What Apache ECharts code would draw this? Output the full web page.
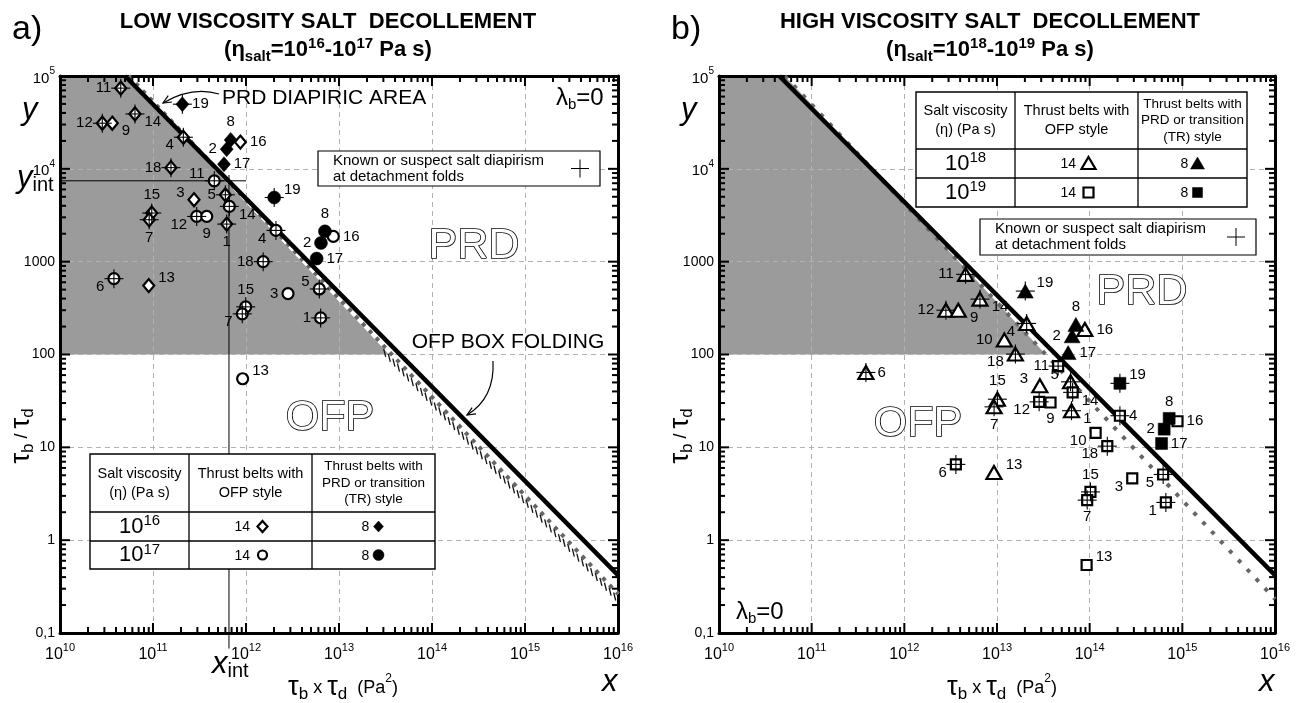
<!DOCTYPE html>
<html><head><meta charset="utf-8">
<script src="https://cdn.jsdelivr.net/npm/echarts@6/dist/echarts.min.js"></script>
<style>html,body{margin:0;padding:0;background:#fff}#c{width:1296px;height:703px}</style>
</head><body><div id="c"></div>
<script>
// ================= DATA =================
const xTickExps = [10, 11, 12, 13, 14, 15, 16];
const yTickLabels = {'-1': '0,1', '0': '1', '1': '10', '2': '100', '3': '1000', '4': '{b|10}{s|4}', '5': '{b|10}{s|5}'};

// rows: [tau_b x tau_d (Pa^2), tau_b / tau_d, belt number, salt diapirism (1/0)]
// a) eta = 1e16 Pa s
const lowDiamondOpen = [
  [4.5e10, 7.4e4, '11', 1], [6.4e10, 3.9e4, '14', 1], [2.85e10, 3.1e4, '12', 1], [3.65e10, 3.1e4, '9', 0],
  [2.12e11, 2.19e4, '4', 1], [8.7e11, 1.94e4, '16', 0], [1.56e11, 1.03e4, '18', 1], [2.76e11, 4.65e3, '3', 0],
  [6.0e11, 5.25e3, '5', 1], [9.7e10, 3.34e3, '15', 1], [9.1e10, 2.83e3, '7', 1], [6.2e11, 2.54e3, '1', 1],
  [9.0e10, 552, '13', 0]
];
const lowDiamondFilled = [
  [2.07e11, 4.97e4, '19', 1], [6.84e11, 2.05e4, '8', 0], [6.2e11, 1.63e4, '2', 0], [5.8e11, 1.12e4, '17', 0]
];
// a) eta = 1e17 Pa s
const lowCircleOpen = [
  [4.56e11, 7.43e3, '11', 1], [6.62e11, 3.94e3, '14', 1], [2.95e11, 3.07e3, '12', 1], [3.78e11, 3.07e3, '9', 0],
  [2.1e12, 2.17e3, '4', 1], [8.69e12, 1.87e3, '16', 0], [1.53e12, 1.0e3, '18', 1], [3.8e10, 656, '6', 1],
  [6.14e12, 508, '5', 1], [2.83e12, 453, '3', 0], [9.93e11, 326, '15', 1], [9.12e11, 274, '7', 1],
  [6.35e12, 248, '1', 1], [9.2e11, 54.8, '13', 0]
];
const lowCircleFilled = [
  [2.01e12, 4.91e3, '19', 1], [7.06e12, 2.12e3, '8', 0], [6.4e12, 1.59e3, '2', 0], [5.75e12, 1.08e3, '17', 0]
];
// b) eta = 1e18 Pa s
const highTriOpen = [
  [4.58e12, 730, '11', 1], [6.55e12, 395, '14', 1], [2.81e12, 300, '12', 1], [3.82e12, 300, '9', 0],
  [1.2e13, 143, '10', 0], [2.09e13, 216, '4', 1], [8.87e13, 186, '16', 0], [1.58e13, 101, '18', 1],
  [2.9e13, 46, '3', 0], [6.22e13, 50.8, '5', 1], [1.01e13, 33, '15', 1], [9.3e12, 27.3, '7', 1],
  [6.37e13, 24.8, '1', 1], [3.85e11, 64.1, '6', 1], [9.27e12, 5.36, '13', 0]
];
const highTriFilled = [
  [2.02e13, 482, '19', 1], [7.1e13, 211, '8', 0], [6.47e13, 159, '2', 0], [5.86e13, 105, '17', 0]
];
// b) eta = 1e19 Pa s
const highSqOpen = [
  [4.57e13, 75, '11', 1], [6.55e13, 39.1, '14', 1], [2.85e13, 30.9, '12', 1], [3.78e13, 30.4, '9', 0],
  [1.16e14, 14.3, '10', 0], [2.12e14, 21.9, '4', 1], [8.87e14, 19.1, '16', 0], [1.55e14, 10.3, '18', 1],
  [2.88e14, 4.62, '3', 0], [6.21e14, 5.1, '5', 1], [1.02e14, 3.31, '15', 1], [9.4e13, 2.7, '7', 1],
  [6.64e14, 2.55, '1', 1], [3.6e12, 6.55, '6', 1], [9.27e13, 0.54, '13', 0]
];
const highSqFilled = [
  [2.12e14, 48.9, '19', 1], [7.21e14, 20.5, '8', 0], [6.37e14, 15.7, '2', 0], [5.97e14, 11.0, '17', 0]
];

// boundary lines [x, y]
const lowThreshold = [[5.0e10, 1e5], [1e16, 0.42]];
const lowBoxFolding = [[5.5e10, 1e5], [1e16, 0.263]];
const highThreshold = [[4.47e10, 1e5], [1e16, 0.42]];
const highBoxFolding = [[5.13e10, 1e5], [1e16, 0.232]];
const lowShade = [[1e10, 1e5], [5.5e10, 1e5], [3.7e13, 100], [1e10, 100]];
const highShade = [[1e10, 1e5], [5.13e10, 1e5], [3.37e13, 100], [1e10, 100]];
const lowHatchStart = 3.1e13;
const xInt = 6.56e11, yInt = 7430;
const xIntLine = [[xInt, 8600], [xInt, 0.068]];
const yIntLine = [[6.9e9, yInt], [1e12, yInt]];

// ================= STYLE / LABEL PLACEMENT =================
const lowDiamondOpenLbl = ['l','br','l','br','bl','r','l','tl','l','t','b','b','tr'];
const lowDiamondFilledLbl = ['r','t','l','r'];
const lowCircleOpenLbl = ['tl','br','bl','b','bl','r','l','bl','tl','l','t','bl','l','tr'];
const lowCircleFilledLbl = ['tr','t','l','r'];
const highTriOpenLbl = ['l','br','l','br','l','bl','r','bl','tl','tl','t','b','br','r','tr'];
const highTriFilledLbl = ['tr','t','l','r'];
const highSqOpenLbl = ['l','br','bl','b','bl','r','r','bl','bl','bl','t','b','bl','bl','tr'];
const highSqFilledLbl = ['tr','t','l','r'];

const FONT = '"Liberation Sans", Arial, Helvetica, sans-serif';
const chart = echarts.init(document.getElementById('c'));

function supRich(base, sup) {
  return {
    b: {fontFamily: FONT, fontSize: base, color: '#000', lineHeight: base + 5, verticalAlign: 'bottom'},
    s: {fontFamily: FONT, fontSize: sup, color: '#000', lineHeight: sup, verticalAlign: 'top'}
  };
}
function mkX(gi, pos) {
  const main = pos === 'bottom';
  return {
    type: 'log', logBase: 10, min: 1e10, max: 1e16, splitNumber: 6, gridIndex: gi, position: pos, z: 1,
    axisLine: {show: true, onZero: false, lineStyle: {color: '#000', width: 3}},
    axisTick: {show: false}, minorTick: {show: false},
    splitLine: {show: main, lineStyle: {color: '#b2b2b2', width: 1, type: [5, 4]}},
    axisLabel: {show: main, margin: 9, formatter: v => '{b|10}{s|' + Math.round(Math.log10(v)) + '}', rich: supRich(16, 11)}
  };
}
function mkY(gi, pos) {
  const main = pos === 'left';
  return {
    type: 'log', logBase: 10, min: 0.1, max: 1e5, splitNumber: 6, gridIndex: gi, position: pos, z: 1,
    axisLine: {show: true, onZero: false, lineStyle: {color: '#000', width: 3}},
    axisTick: {show: false}, minorTick: {show: false},
    splitLine: {show: main, lineStyle: {color: '#b2b2b2', width: 1, type: [5, 4]}},
    axisLabel: {show: main, margin: 5, fontFamily: FONT, fontSize: 14, color: '#000',
      formatter: v => yTickLabels[String(Math.round(Math.log10(v)))], rich: supRich(15, 10)}
  };
}
const xAxes = [mkX(0, 'bottom'), mkX(0, 'top'), mkX(1, 'bottom'), mkX(1, 'top')];
const yAxes = [mkY(0, 'left'), mkY(0, 'right'), mkY(1, 'left'), mkY(1, 'right')];

// minor / major tick values (axis decoration)
const xTickVals = [], yTickVals = [];
for (let e = 10; e < 16; e++) for (let m = 1; m <= 9; m++) xTickVals.push(m * Math.pow(10, e));
xTickVals.push(1e16);
for (let e = -1; e < 5; e++) for (let m = 1; m <= 9; m++) yTickVals.push(+(m * Math.pow(10, e)).toPrecision(3));
yTickVals.push(1e5);
const isMajor = v => Math.abs(Math.log10(v) - Math.round(Math.log10(v))) < 1e-9;

const series = [];
function ax(gi) { return {xAxisIndex: gi * 2, yAxisIndex: gi * 2}; }

// shaded area
function polyRender(pts) {
  return function (params, api) {
    if (params.dataIndex !== 0) return null;
    return {type: 'polygon', shape: {points: pts.map(p => api.coord(p))}, style: {fill: '#9b9b9b'}};
  };
}
series.push(Object.assign({type: 'custom', z: 0, silent: true, renderItem: polyRender(lowShade), data: lowShade}, ax(0)));
series.push(Object.assign({type: 'custom', z: 0, silent: true, renderItem: polyRender(highShade), data: highShade}, ax(1)));

// ticks
function xTickRender(params, api) {
  const v = api.value(0);
  if (v <= 1e10 * 1.0001 || v >= 1e16 * 0.9999) return null;
  const b = api.coord([v, 0.1]), t = api.coord([v, 1e5]);
  const L = isMajor(v) ? 10 : 6;
  const st = {stroke: '#000', lineWidth: 2};
  return {type: 'group', children: [
    {type: 'line', shape: {x1: b[0], y1: b[1], x2: b[0], y2: b[1] - L}, style: st},
    {type: 'line', shape: {x1: t[0], y1: t[1], x2: t[0], y2: t[1] + L}, style: st}]};
}
function yTickRender(params, api) {
  const v = api.value(1);
  if (v <= 0.1 * 1.0001 || v >= 1e5 * 0.9999) return null;
  const l = api.coord([1e10, v]), r = api.coord([1e16, v]);
  const L = isMajor(v) ? 10 : 6;
  const st = {stroke: '#000', lineWidth: 2};
  return {type: 'group', children: [
    {type: 'line', shape: {x1: l[0], y1: l[1], x2: l[0] + L, y2: l[1]}, style: st},
    {type: 'line', shape: {x1: r[0], y1: r[1], x2: r[0] - L, y2: r[1]}, style: st}]};
}
[0, 1].forEach(gi => {
  series.push(Object.assign({type: 'custom', z: 4, silent: true, renderItem: xTickRender, data: xTickVals.map(v => [v, 1])}, ax(gi)));
  series.push(Object.assign({type: 'custom', z: 4, silent: true, renderItem: yTickRender, data: yTickVals.map(v => [1e12, v])}, ax(gi)));
});

// lines
function lineS(gi, data, lineStyle, z, extra) {
  return Object.assign({type: 'line', data, symbol: 'none', silent: true, z, lineStyle, clip: false}, ax(gi), extra || {});
}
series.push(lineS(0, lowBoxFolding, {color: '#fff', width: 4}, 2));
series.push(lineS(0, lowBoxFolding, {color: '#666', width: 4, type: [4, 6]}, 2.1));
series.push(lineS(0, lowThreshold, {color: '#000', width: 4.5}, 3));
series.push(lineS(1, highBoxFolding, {color: '#666', width: 4, type: [4, 9]}, 2.1));
series.push(lineS(1, highThreshold, {color: '#000', width: 4.5}, 3));
series.push(lineS(0, xIntLine, {color: '#000', width: 1}, 3));
series.push(lineS(0, yIntLine, {color: '#000', width: 1}, 3));

// hatch below OFP box folding line (a)
series.push(Object.assign({type: 'custom', z: 2.2, silent: true, data: lowBoxFolding,
  renderItem: function (params, api) {
    if (params.dataIndex !== 0) return null;
    const p0 = api.coord(lowBoxFolding[0]), p1 = api.coord(lowBoxFolding[1]);
    const s = api.coord([lowHatchStart, 1])[0];
    const k = (p1[1] - p0[1]) / (p1[0] - p0[0]);
    const ch = [];
    for (let x = s; x <= p1[0] - 2; x += 4.6) {
      const y = p0[1] + k * (x - p0[0]);
      ch.push({type: 'line', shape: {x1: x - 1, y1: y + 2, x2: x + 1, y2: y + 10}, style: {stroke: '#111', lineWidth: 1.3}});
    }
    return {type: 'group', children: ch};
  }}, ax(0)));

// markers
function lblCfg(code) {
  const m = {l: ['left', [0, 0]], r: ['right', [0, 0]], t: ['top', [0, 0]], b: ['bottom', [0, 0]],
    tl: ['left', [0, -7]], tr: ['right', [0, -8]], bl: ['left', [0, 8]], br: ['right', [0, 8]]};
  return {position: m[code][0], offset: m[code][1], distance: 3};
}
function scat(gi, pts, lbls, symbol, size, filled) {
  series.push(Object.assign({type: 'scatter', symbol, symbolSize: size, z: 5, silent: true,
    itemStyle: {color: filled ? '#000' : '#fff', borderColor: '#000', borderWidth: filled ? 0.5 : 2.2, opacity: 1},
    label: {show: true, formatter: '{b}', fontFamily: FONT, fontSize: 15, color: '#000'},
    data: pts.map((p, i) => ({value: [p[0], p[1]], name: p[2], label: lblCfg(lbls[i])}))}, ax(gi)));
  series.push(Object.assign({type: 'custom', z: 6, silent: true,
    data: pts.filter(p => p[3]).map(p => [p[0], p[1]]),
    renderItem: function (params, api) {
      const c = api.coord([api.value(0), api.value(1)]), h = 9.5;
      const st = {stroke: '#000', lineWidth: 1.1};
      return {type: 'group', children: [
        {type: 'line', shape: {x1: c[0] - h, y1: c[1], x2: c[0] + h, y2: c[1]}, style: st},
        {type: 'line', shape: {x1: c[0], y1: c[1] - h, x2: c[0], y2: c[1] + h}, style: st}]};
    }}, ax(gi)));
}
scat(0, lowDiamondOpen, lowDiamondOpenLbl, 'diamond', [11, 13], false);
scat(0, lowDiamondFilled, lowDiamondFilledLbl, 'diamond', [13, 15], true);
scat(0, lowCircleOpen, lowCircleOpenLbl, 'circle', 11, false);
scat(0, lowCircleFilled, lowCircleFilledLbl, 'circle', 13, true);
scat(1, highTriOpen, highTriOpenLbl, 'triangle', [15, 13], false);
scat(1, highTriFilled, highTriFilledLbl, 'triangle', [16, 14], true);
scat(1, highSqOpen, highSqOpenLbl, 'rect', 10, false);
scat(1, highSqFilled, highSqFilledLbl, 'rect', 12, true);

// ================= GRAPHIC (annotations, tables) =================
const G = [];
function txt(x, y, text, st, rot) {
  G.push({type: 'text', z: 10, silent: true, x, y, rotation: rot || 0,
    style: Object.assign({x: 0, y: 0, text, fontFamily: FONT, fontSize: 13, fill: '#000', align: 'left', verticalAlign: 'middle'}, st || {})});
}
function ln(x1, y1, x2, y2, w) { G.push({type: 'line', z: 10, silent: true, shape: {x1, y1, x2, y2}, style: {stroke: '#000', lineWidth: w || 1}}); }
function rect(x, y, w, h, lw) { G.push({type: 'rect', z: 10, silent: true, shape: {x, y, width: w, height: h}, style: {fill: '#fff', stroke: '#000', lineWidth: lw || 1.3}}); }
function arrow(x1, y1, cx, cy, x2, y2) {
  G.push({type: 'bezierCurve', z: 10, silent: true, shape: {x1, y1, x2, y2, cpx1: cx, cpy1: cy}, style: {stroke: '#000', lineWidth: 1.2, fill: null}});
  const a = Math.atan2(y2 - cy, x2 - cx), L = 9, d = 0.42;
  G.push({type: 'polyline', z: 10, silent: true, shape: {points: [[x2 - L * Math.cos(a - d), y2 - L * Math.sin(a - d)], [x2, y2], [x2 - L * Math.cos(a + d), y2 - L * Math.sin(a + d)]]},
    style: {stroke: '#000', lineWidth: 1.2, fill: null}});
}
function sym(kind, cx, cy, filled) {
  const st = {fill: filled ? '#000' : '#fff', stroke: '#000', lineWidth: filled ? 0.5 : 2.2};
  let el;
  if (kind === 'diamond') el = {type: 'polygon', shape: {points: [[cx, cy - 5.5], [cx + 5, cy], [cx, cy + 5.5], [cx - 5, cy]]}};
  else if (kind === 'circle') el = {type: 'circle', shape: {cx, cy, r: filled ? 5.5 : 4.5}};
  else if (kind === 'triangle') el = {type: 'polygon', shape: {points: [[cx, cy - 6.5], [cx + 7, cy + 5.5], [cx - 7, cy + 5.5]]}};
  else el = {type: 'rect', shape: {x: cx - 5, y: cy - 5, width: 10, height: 10}};
  el.z = 11; el.silent = true; el.style = st; G.push(el);
}
const bigRich = {
  n: {fontFamily: FONT, fontSize: 22, fontWeight: 'bold', lineHeight: 28, verticalAlign: 'middle'},
  sub: {fontFamily: FONT, fontSize: 15, fontWeight: 'bold', lineHeight: 15, verticalAlign: 'bottom'},
  sup: {fontFamily: FONT, fontSize: 15, fontWeight: 'bold', lineHeight: 15, verticalAlign: 'top'}
};
const axRich = {
  t: {fontFamily: FONT, fontSize: 27, lineHeight: 30, verticalAlign: 'middle'},
  m: {fontFamily: FONT, fontSize: 18, lineHeight: 30, verticalAlign: 'middle'},
  sub: {fontFamily: FONT, fontSize: 17, lineHeight: 17, verticalAlign: 'bottom'},
  sup: {fontFamily: FONT, fontSize: 12, lineHeight: 12, verticalAlign: 'top'},
  i: {fontFamily: FONT, fontSize: 31, fontStyle: 'italic', lineHeight: 34, verticalAlign: 'middle'},
  isub: {fontFamily: FONT, fontSize: 20, lineHeight: 20, verticalAlign: 'bottom'},
  l: {fontFamily: FONT, fontSize: 24, lineHeight: 28, verticalAlign: 'middle'},
  lsub: {fontFamily: FONT, fontSize: 15, lineHeight: 15, verticalAlign: 'bottom'},
  big: {fontFamily: FONT, fontSize: 22, lineHeight: 26, verticalAlign: 'middle'},
  bsup: {fontFamily: FONT, fontSize: 15, lineHeight: 15, verticalAlign: 'top'}
};
const panels = [
  {gl: 60, gr: 618, title: 'LOW VISCOSITY SALT  DECOLLEMENT', e1: '16', e2: '17', tag: 'a)', cx: 328},
  {gl: 719, gr: 1275, title: 'HIGH VISCOSITY SALT  DECOLLEMENT', e1: '18', e2: '19', tag: 'b)', cx: 990}
];
panels.forEach(p => {
  txt(p.gl - 48, 30, p.tag, {fontSize: 34});
  txt(p.cx, 22, p.title, {fontSize: 22, fontWeight: 'bold', align: 'center'});
  txt(p.cx, 50, '{n|(η}{sub|salt}{n|=10}{sup|' + p.e1 + '}{n|-10}{sup|' + p.e2 + '}{n| Pa s)}', {align: 'center', rich: bigRich});
  txt(p.gl + 283, 688, '{t|τ}{sub|b}{m| x }{t|τ}{sub|d}{m|  (Pa}{sup|2}{m|)}', {align: 'center', rich: axRich});
  txt(p.gr - 16, 682, '{i|x}', {rich: axRich});
  txt(p.gl - 38, 110, '{i|y}', {rich: axRich});
  txt(p.gl - 38, 436, '{t|τ}{sub|b}{m| / }{t|τ}{sub|d}', {align: 'center', rich: axRich}, Math.PI / 2);
});
txt(17, 178, '{i|y}{isub|int}', {rich: axRich});
txt(212, 664, '{i|x}{isub|int}', {rich: axRich});
txt(556, 98, '{l|λ}{lsub|b}{l|=0}', {rich: axRich});
txt(736, 612, '{l|λ}{lsub|b}{l|=0}', {rich: axRich});
// region names (outlined)
const outl = {fontSize: 43, fill: '#fff', stroke: '#000', lineWidth: 1.6, align: 'center'};
txt(474, 246, 'PRD', outl);
txt(330, 418, 'OFP', outl);
txt(1142, 292, 'PRD', outl);
txt(918, 424, 'OFP', outl);
txt(222, 98, 'PRD DIAPIRIC AREA', {fontSize: 21});
arrow(219, 94, 192, 86, 163, 103);
txt(508, 342, 'OFP BOX FOLDING', {fontSize: 21, align: 'center'});
arrow(493, 361, 495, 398, 467, 415);

// diapirism legend boxes
function diapirBox(x, y, w, h) {
  rect(x, y, w, h, 1.2);
  txt(x + 15, y + 10, 'Known or suspect salt diapirism', {fontSize: 15});
  txt(x + 15, y + 26, 'at detachment folds', {fontSize: 15});
  const cx = x + w - 20, cy = y + h / 2;
  ln(cx - 9, cy, cx + 9, cy, 1); ln(cx, cy - 9, cx, cy + 9, 1);
}
diapirBox(318, 151, 282, 35);
diapirBox(980, 219, 276, 36);

// tables
function table(cols, rows, e1, e2, s1, s2) {
  const W = cols[3] - cols[0], H = rows[3] - rows[0];
  rect(cols[0], rows[0], W, H, 1.4);
  ln(cols[1], rows[0], cols[1], rows[3], 1.3); ln(cols[2], rows[0], cols[2], rows[3], 1.3);
  ln(cols[0], rows[1], cols[3], rows[1], 1.3); ln(cols[0], rows[2], cols[3], rows[2], 1.3);
  const c = [(cols[0] + cols[1]) / 2, (cols[1] + cols[2]) / 2, (cols[2] + cols[3]) / 2];
  const hm = (rows[0] + rows[1]) / 2;
  txt(c[0], hm, 'Salt viscosity\n(η) (Pa s)', {fontSize: 14.5, align: 'center', lineHeight: 19});
  txt(c[1], hm, 'Thrust belts with\nOFP style', {fontSize: 14.5, align: 'center', lineHeight: 19});
  txt(c[2], hm, 'Thrust belts with\nPRD or transition\n(TR) style', {fontSize: 13.5, align: 'center', lineHeight: 16.5});
  const r1 = (rows[1] + rows[2]) / 2, r2 = (rows[2] + rows[3]) / 2;
  txt(c[0], r1, '{big|10}{bsup|' + e1 + '}', {align: 'center', rich: axRich});
  txt(c[0], r2, '{big|10}{bsup|' + e2 + '}', {align: 'center', rich: axRich});
  txt(c[1] - 16, r1 + 1, '14', {fontSize: 14});
  txt(c[1] - 16, r2 + 1, '14', {fontSize: 14});
  sym(s1, c[1] + 12, r1, false); sym(s2, c[1] + 12, r2, false);
  txt(c[2] - 12, r1 + 1, '8', {fontSize: 14});
  txt(c[2] - 12, r2 + 1, '8', {fontSize: 14});
  sym(s1, c[2] + 5, r1, true); sym(s2, c[2] + 5, r2, true);
}
table([90, 189, 312, 435], [454, 512, 541, 569], '16', '17', 'diamond', 'circle');
table([916, 1015, 1138, 1247], [92, 149, 178, 207], '18', '19', 'triangle', 'rect');

chart.setOption({
  animation: false,
  backgroundColor: '#fff',
  grid: [
    {left: 60, top: 76, width: 558, height: 557, outerBoundsMode: 'none', containLabel: false},
    {left: 719, top: 76, width: 556, height: 557, outerBoundsMode: 'none', containLabel: false}
  ],
  xAxis: xAxes, yAxis: yAxes, series, graphic: G
});
</script></body></html>
